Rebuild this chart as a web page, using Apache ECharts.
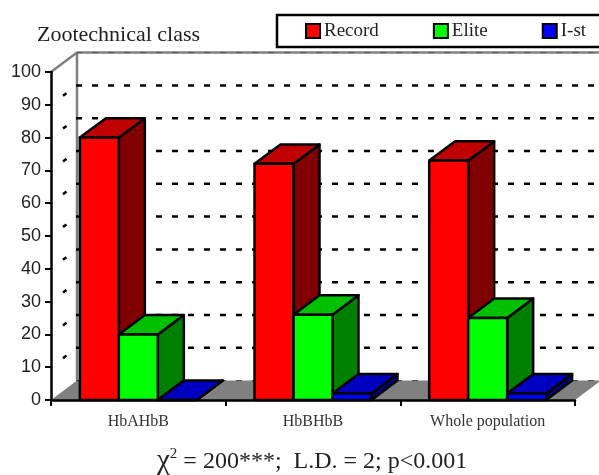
<!DOCTYPE html>
<html><head><meta charset="utf-8">
<style>html,body{margin:0;padding:0;background:#fff}#c{width:599px;height:475px}</style>
<script src="https://cdn.jsdelivr.net/npm/echarts@6/dist/echarts.min.js"></script>
</head><body><div id="c"></div>
<script>
const categories = ['HbAHbB', 'HbBHbB', 'Whole population'];
const record = [80, 72, 73];
const elite = [20, 26, 25];
const first = [0, 2, 2];
const gridValues = [0, 10, 20, 30, 40, 50, 60, 70, 80, 90, 100];

const DX = 26, DY = 19.4, BAR_FRAC = 0.2232;
const chart = echarts.init(document.getElementById('c'), null, {renderer: 'canvas'});

function poly(points, fill, stroke, lw) {
  return {type: 'polygon', shape: {points}, style: {fill, stroke, lineWidth: lw, lineJoin: 'round'}};
}
function barSeries(name, values, slot, front, top, side) {
  return {
    type: 'custom', name, z: 5 + slot, coordinateSystem: 'cartesian2d',
    itemStyle: {color: front},
    data: values.map((v, i) => [i, v]),
    encode: {x: 0, y: 1},
    renderItem(params, api) {
      const band = api.size([1, 0])[0];
      const w = band * BAR_FRAC;
      const base = api.coord([api.value(0), 0]);
      const head = api.coord([api.value(0), api.value(1)]);
      const x0 = base[0] - 1.5 * w + slot * w, x1 = x0 + w;
      const y0 = base[1], y1 = head[1];
      const lw = 2.5, k = '#000';
      return {type: 'group', children: [
        poly([[x1, y0], [x1 + DX, y0 - DY], [x1 + DX, y1 - DY], [x1, y1]], side, k, lw),
        poly([[x0, y1], [x0 + DX, y1 - DY], [x1 + DX, y1 - DY], [x1, y1]], top, k, lw),
        poly([[x0, y0], [x1, y0], [x1, y1], [x0, y1]], front, k, lw)
      ]};
    }
  };
}
const wallSeries = {
  type: 'custom', name: 'walls', z: 1, silent: true, legendHoverLink: false,
  data: [[0, 0]], encode: {x: 0, y: 1},
  renderItem(params, api) {
    const cs = params.coordSys;
    const l = cs.x, r = cs.x + cs.width;
    const y0 = api.coord([0, 0])[1], y100 = api.coord([0, 100])[1];
    const g = '#808080';
    const line = (a, b, c, d) => ({type: 'line', shape: {x1: a, y1: b, x2: c, y2: d},
      style: {stroke: g, lineWidth: 2.5, fill: null}});
    return {type: 'group', children: [
      poly([[l, y0], [r, y0], [r + DX, y0 - DY], [l + DX, y0 - DY]], g, null, 0),
      line(l, y100, l + DX, y100 - DY),
      line(l + DX, y100 - DY, l + DX, y0 - DY),
      line(l + DX, y100 - DY, r + DX, y100 - DY)
    ]};
  }
};
const gridSeries = {
  type: 'custom', name: 'grid', z: 2, silent: true,
  data: gridValues.map(v => [0, v]), encode: {x: 0, y: 1},
  renderItem(params, api) {
    const cs = params.coordSys;
    const v = api.value(1);
    const y = api.coord([0, v])[1];
    const l = cs.x, r = cs.x + cs.width;
    const edge = v === 0 || v === 100;
    const color = v === 100 ? '#555' : (v === 0 ? '#444' : '#000');
    const children = [{type: 'line', shape: {x1: l + DX - 1, y1: y - DY, x2: r + DX + 2, y2: y - DY},
      style: {stroke: color, lineWidth: edge ? 1 : 2.5, lineDash: [6, 10], fill: null}}];
    if (!edge) children.push({type: 'line', shape: {x1: l + 12, y1: y - 9, x2: l + 15.5, y2: y - 11.6},
      style: {stroke: '#000', lineWidth: 2.5, fill: null}});
    return {type: 'group', children};
  }
};

chart.setOption({
  animation: false,
  backgroundColor: '#fff',
  title: [
    {text: 'Zootechnical class', left: 32, top: 19,
     textStyle: {fontFamily: 'Liberation Serif', fontSize: 22, fontWeight: 'normal', color: '#222'}},
    {text: '{chi|χ}{sup|2} = 200***;  L.D. = 2; p<0.001', left: 152, top: 442,
     textStyle: {fontFamily: 'Liberation Serif', fontSize: 24, fontWeight: 'normal', color: '#222',
       rich: {
         chi: {fontFamily: 'Liberation Serif', fontSize: 29, color: '#222'},
         sup: {fontFamily: 'Liberation Serif', fontSize: 15, color: '#222', verticalAlign: 'top', lineHeight: 24}
       }}}
  ],
  legend: {
    left: 277, top: 15, width: 400, padding: [6.5, 30, 6.5, 28], itemGap: 54, itemWidth: 14, itemHeight: 14,
    icon: 'rect', selectedMode: false,
    data: ['Record', 'Elite', 'I-st'],
    backgroundColor: '#fff', borderColor: '#000', borderWidth: 2.5,
    itemStyle: {borderColor: '#000', borderWidth: 2},
    textStyle: {fontFamily: 'Liberation Serif', fontSize: 19, color: '#222', padding: [0, 0, 0, -1]}
  },
  grid: {left: 51, right: 24, top: 72, bottom: 75},
  xAxis: {
    type: 'category', data: categories, z: 20,
    axisLine: {lineStyle: {color: '#000', width: 2.5}},
    axisTick: {show: true, length: 6, lineStyle: {color: '#000', width: 2}},
    axisLabel: {fontFamily: 'Liberation Serif', fontSize: 16, color: '#333', margin: 14}
  },
  yAxis: {
    type: 'value', min: 0, max: 100, interval: 10, z: 20,
    axisLine: {show: true, lineStyle: {color: '#000', width: 2.5}},
    axisTick: {show: true, length: 6, lineStyle: {color: '#000', width: 2}},
    axisLabel: {fontFamily: 'Liberation Sans', fontSize: 18, color: '#222', margin: 10},
    splitLine: {show: false}
  },
  series: [
    wallSeries, gridSeries,
    barSeries('Record', record, 0, '#FF0000', '#C00000', '#800000'),
    barSeries('Elite', elite, 1, '#00FF00', '#00C000', '#008000'),
    barSeries('I-st', first, 2, '#0000FF', '#0000C0', '#000080')
  ]
});
</script></body></html>
